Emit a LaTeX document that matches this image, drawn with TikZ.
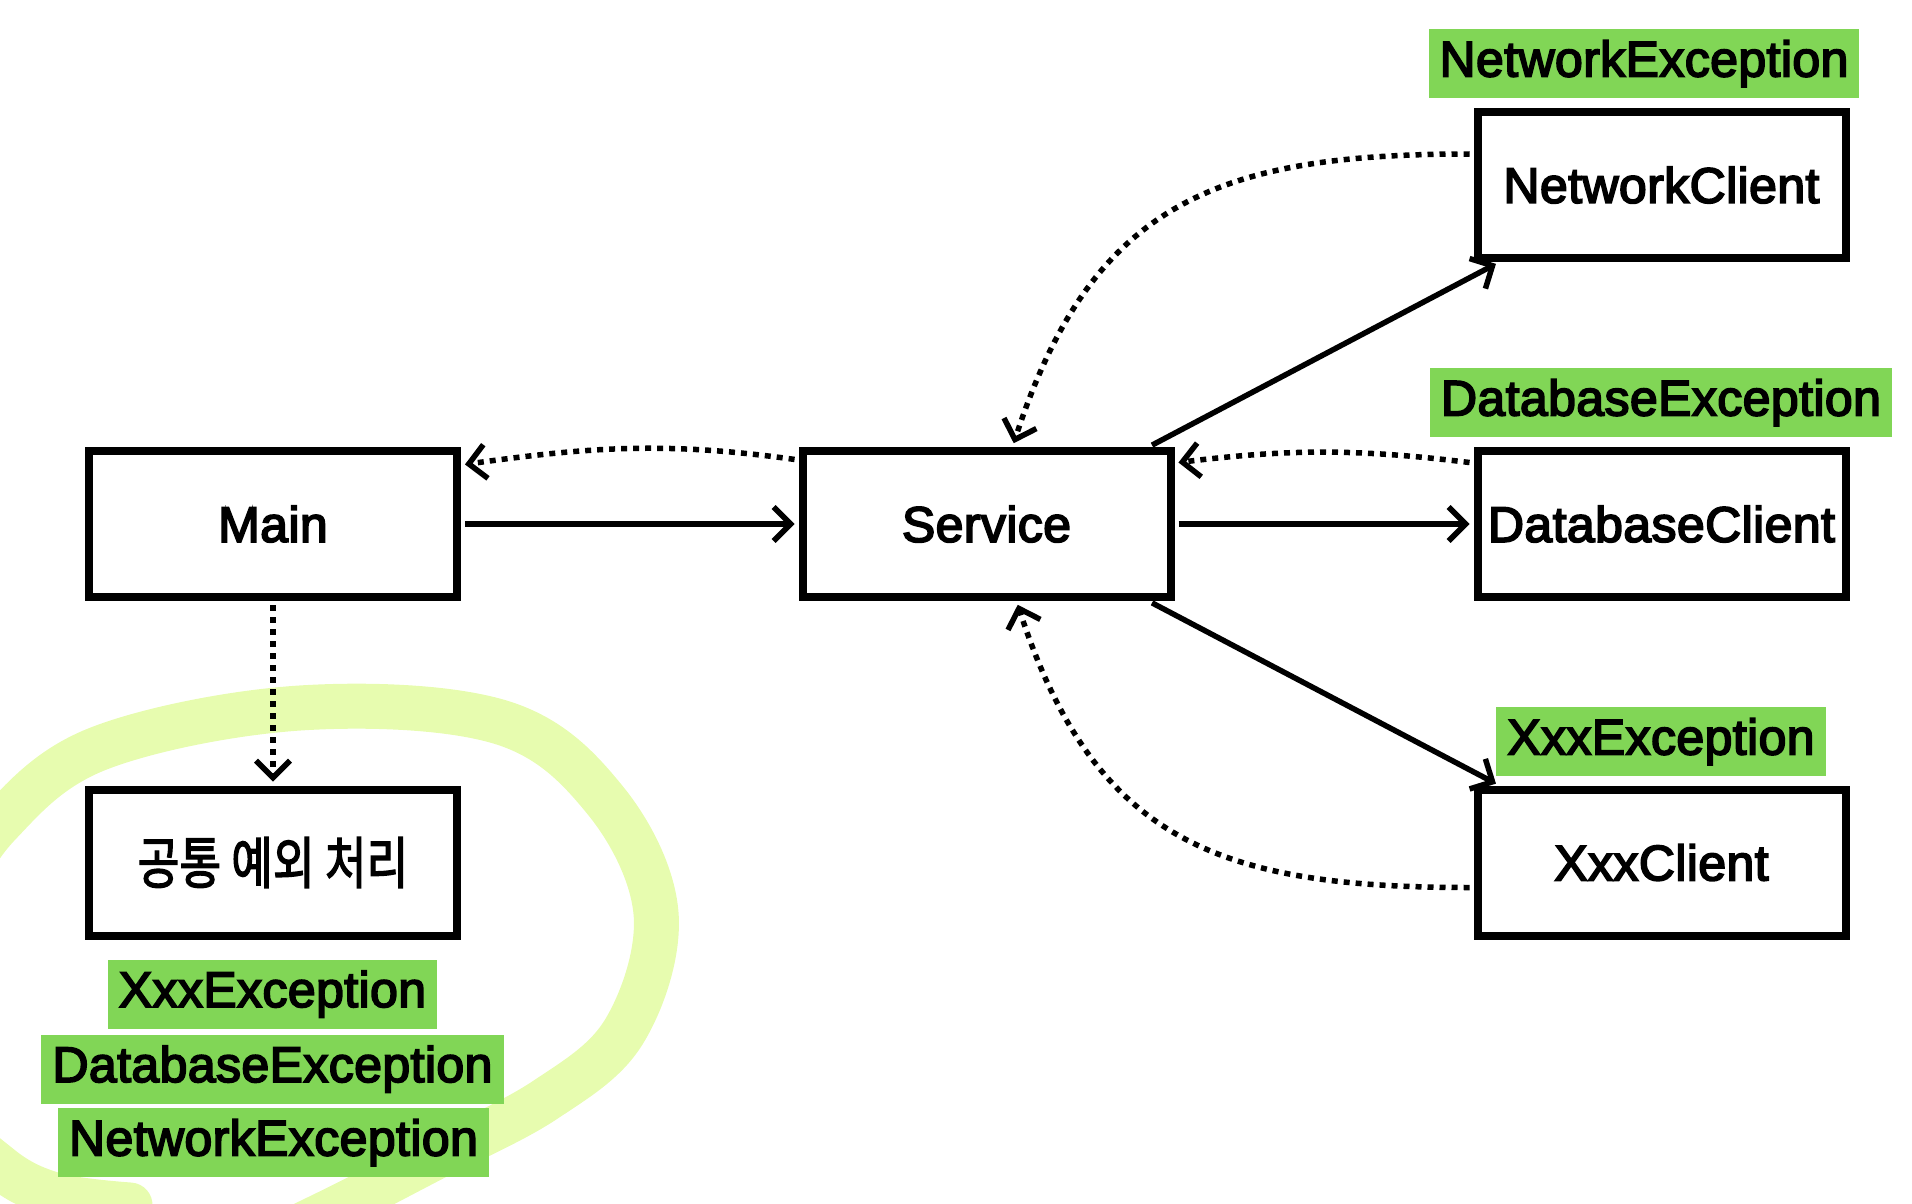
\documentclass[tikz,border=0pt]{standalone}
\usepackage{fontspec}
\usepackage{graphicx}
\setmainfont{Liberation Sans}
\newfontfamily\boxfont{Liberation Sans}[FakeBold=3.5,LetterSpace=0.8]
\newfontfamily\kofont{Noto Sans CJK KR}[FakeBold=2.5]
\usetikzlibrary{arrows.meta,decorations.pathmorphing}
\definecolor{labelgreen}{RGB}{129,214,86}
\definecolor{loopgreen}{RGB}{231,252,175}
\begin{document}
\begin{tikzpicture}[x=1pt,y=1pt,
  box/.style={draw=black, fill=white, line width=8pt, minimum width=368pt, minimum height=146pt,
    outer sep=4pt, inner sep=0pt, font=\boxfont\fontsize{50}{60}\selectfont,
    postaction={draw=black, line width=3.5pt, line join=round, decorate,
      decoration={random steps, segment length=1.2pt, amplitude=1.3pt}}},
  exlabel/.style={fill=labelgreen, inner xsep=11pt, inner ysep=0pt, minimum height=69pt,
    text height=37pt, text depth=11pt, font=\boxfont\fontsize{50}{60}\selectfont},
  solidarrow/.style={line width=5.5pt, -{Straight Barb[length=17pt,width=34pt]},
    shorten >=4pt, shorten <=4pt},
  dotarrow/.style={line width=5.5pt, dash pattern=on 6pt off 6pt,
    -{Straight Barb[length=17pt,width=34pt]}, shorten >=4pt, shorten <=4pt},
  loopstroke/.style={draw=loopgreen, line width=45pt, line cap=round, line join=round}
]
\useasboundingbox (0,0) rectangle (1912,-1204);
\clip (0,0) rectangle (1912,-1204);

% highlight loop
\draw[loopstroke] plot[smooth, tension=0.6] coordinates {(130,-1205) (55,-1195) (0,-1167)
  (-50,-1110) (-65,-1000) (-45,-900) (0,-823) (100,-748) (300,-708) (500,-722)
  (605,-800) (656,-913) (625,-1030) (545,-1100) (430,-1160) (345,-1204) (250,-1250)};

% boxes
\node[box] (main) at (273,-524) {Main};
\node[box] (service) at (986.5,-524) {Service};
\node[box] (nc) at (1661.5,-185) {NetworkClient};
\node[box] (dc) at (1661.5,-524) {DatabaseClient};
\node[box] (xc) at (1661.5,-862.5) {XxxClient};
\node[box] (common) at (273,-862.5) {\kofont\fontsize{56}{60}\selectfont\scalebox{0.81}[1]{공통 예외 처리}};

% exception labels
\node[exlabel] (nex) at (1644,-63.5) {NetworkException};
\node[exlabel] (dex) at (1661,-402.5) {DatabaseException};
\node[exlabel] (xex) at (1661,-741.5) {XxxException};
\node[exlabel] (lxex) at (272.5,-994) {XxxException};
\node[exlabel] (ldex) at (272.5,-1069) {DatabaseException};
\node[exlabel] (lnex) at (273.5,-1142.5) {NetworkException};

% connectors
\draw[solidarrow] (main.east) -- (service.west);
\draw[dotarrow] ([yshift=64pt]service.west) to[out=172,in=8] ([yshift=59pt]main.east);
\draw[dotarrow] (main.south) -- (common.north);
\draw[solidarrow] (service.east) -- (dc.west);
\draw[dotarrow] ([yshift=61pt]dc.west) to[out=173,in=7] ([yshift=61pt]service.east);
\draw[solidarrow] ([xshift=-26pt]service.north east) -- ([xshift=26pt]nc.south west);
\draw[dotarrow] ([yshift=31pt]nc.west) to[out=180,in=72,looseness=1.2] ([xshift=26pt]service.north);
\draw[solidarrow] ([xshift=-26pt]service.south east) -- ([xshift=26pt]xc.north west);
\draw[dotarrow] ([yshift=-25pt]xc.west) to[out=180,in=-72,looseness=1.2] ([xshift=30pt]service.south);
\end{tikzpicture}
\end{document}
